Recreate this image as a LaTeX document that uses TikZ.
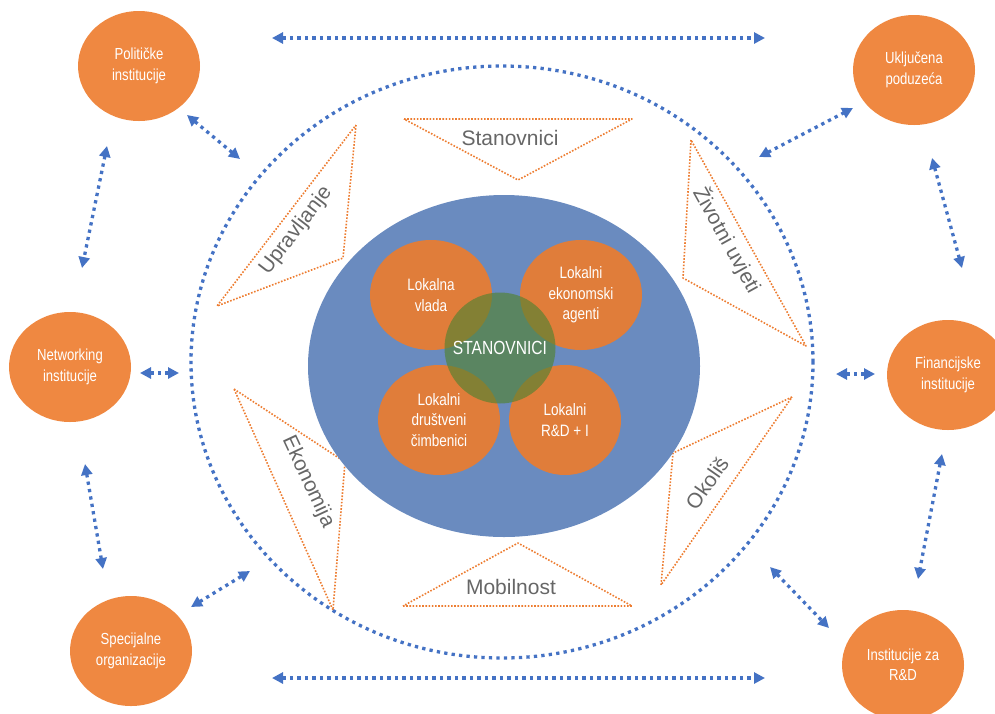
\documentclass[tikz,border=0pt]{standalone}
\usepackage{fontspec}
\setmainfont{Liberation Sans}
\newfontfamily\narrowfont[FakeStretch=0.82]{Liberation Sans}
\usetikzlibrary{arrows.meta,shapes.geometric}
\definecolor{outerorange}{HTML}{EF8841}
\definecolor{innerorange}{HTML}{E07D3A}
\definecolor{coreblue}{HTML}{6A8BBF}
\definecolor{stgreen}{HTML}{538231}
\definecolor{arrowblue}{HTML}{4472C4}
\definecolor{tridot}{HTML}{ED7D31}
\definecolor{labelgray}{HTML}{666666}
\begin{document}
\begin{tikzpicture}[x=1pt,y=-1pt,
  outerent/.style={ellipse, fill=outerorange, minimum width=122pt, minimum height=110pt,
    inner sep=0pt, text=white, align=center, font=\narrowfont\fontsize{16}{20.5}\selectfont},
  innerent/.style={ellipse, fill=innerorange, minimum width=122pt, minimum height=110pt,
    inner sep=0pt, text=white, align=center, font=\narrowfont\fontsize{16.5}{20.5}\selectfont},
  conn/.style={draw=arrowblue, line width=3.3pt, dash pattern=on 3.3pt off 4.2pt,
    {Triangle[length=11pt,width=11pt]}-{Triangle[length=11pt,width=11pt]}},
  ringstyle/.style={ellipse, draw=arrowblue, line width=3.3pt, dash pattern=on 3.3pt off 4.2pt,
    minimum width=622pt, minimum height=592pt, inner sep=0pt},
  tri/.style={draw=tridot, line width=1.6pt, dash pattern=on 1.6pt off 1.6pt, line join=round},
  trilabel/.style={text=labelgray, font=\fontsize{21}{25}\selectfont, inner sep=0pt}
]
\useasboundingbox (0,0) rectangle (995,713);

% dotted ring
\node[ringstyle] (ring) at (502,362) {};

% triangles
\draw[tri] (404,119) -- (632,119) -- (518,180) -- cycle;
\draw[tri] (403,606) -- (632,606) -- (518,543) -- cycle;
\draw[tri] (356,125) -- (343,258) -- (217,306) -- cycle;
\draw[tri] (234,389) -- (345,462) -- (333,610) -- cycle;
\draw[tri] (691,140) -- (683,278) -- (806,346) -- cycle;
\draw[tri] (792,397) -- (673,453) -- (661,585) -- cycle;

\node[trilabel] (lstan) at (510,138) {Stanovnici};
\node[trilabel] (lmob) at (511,587) {Mobilnost};
\node[trilabel, rotate=52.5] (lupr) at (296,231) {Upravljanje};
\node[trilabel, rotate=-65] (leko) at (308,482) {Ekonomija};
\node[trilabel, rotate=-61] (lziv) at (727,240) {Životni uvjeti};
\node[trilabel, rotate=55] (lokol) at (707,483) {Okoliš};

% core
\node[ellipse, fill=coreblue, minimum width=392pt, minimum height=342pt, inner sep=0pt] (core) at (504,366) {};
\node[innerent] (vlada) at (431,295) {Lokalna\\vlada};
\node[innerent] (ekon) at (581,295) {Lokalni\\ekonomski\\agenti};
\node[innerent] (drus) at (439,420) {Lokalni\\društveni\\čimbenici};
\node[innerent, minimum width=112pt] (rdi) at (565,420) {Lokalni\\R\&D + I};
\node[circle, fill=stgreen, fill opacity=0.66, text opacity=1, text=white, minimum size=111pt,
  inner sep=0pt, font=\narrowfont\fontsize{19}{22}\selectfont] (stanc) at (500,348) {STANOVNICI};

% outer entities
\node[outerent] (pol) at (139,66) {Političke\\institucije};
\node[outerent] (ukl) at (914,70) {Uključena\\poduzeća};
\node[outerent] (net) at (70,367) {Networking\\institucije};
\node[outerent] (spec) at (131,651) {Specijalne\\organizacije};
\node[outerent] (fin) at (948,375) {Financijske\\institucije};
\node[outerent] (rd) at (903,665) {Institucije za\\R\&D};

% arrow end points
\coordinate (t1) at (272,38);  \coordinate (t2) at (765,38);
\coordinate (b1) at (272,678); \coordinate (b2) at (765,678);
\coordinate (p1) at (187,115); \coordinate (p2) at (240,159);
\coordinate (pn1) at (107,146); \coordinate (pn2) at (82,268);
\coordinate (n1) at (140,373); \coordinate (n2) at (179,373);
\coordinate (ns1) at (85,464); \coordinate (ns2) at (103,569);
\coordinate (s1) at (191,607); \coordinate (s2) at (250,571);
\coordinate (u1) at (759,157); \coordinate (u2) at (853,108);
\coordinate (uf1) at (932,158); \coordinate (uf2) at (962,268);
\coordinate (f1) at (836,374); \coordinate (f2) at (875,374);
\coordinate (fr1) at (942,454); \coordinate (fr2) at (918,579);
\coordinate (r1) at (770,567); \coordinate (r2) at (829,628);

\draw[conn] (t1) -- (t2);
\draw[conn] (b1) -- (b2);
\draw[conn] (p1) -- (p2);
\draw[conn] (pn1) -- (pn2);
\draw[conn] (n1) -- (n2);
\draw[conn] (ns1) -- (ns2);
\draw[conn] (s1) -- (s2);
\draw[conn] (u1) -- (u2);
\draw[conn] (uf1) -- (uf2);
\draw[conn] (f1) -- (f2);
\draw[conn] (fr1) -- (fr2);
\draw[conn] (r1) -- (r2);
\end{tikzpicture}
\end{document}
